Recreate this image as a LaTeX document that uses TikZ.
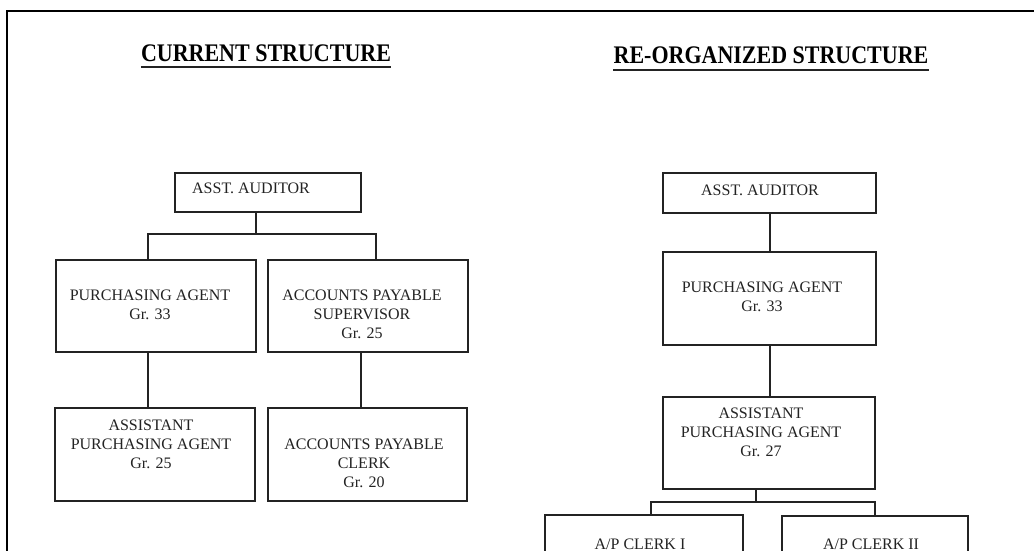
\documentclass[tikz,border=0pt]{standalone}
\usepackage{fontspec}
\setmainfont{Liberation Serif}
\definecolor{ink}{RGB}{35,35,35}
\newcommand{\tallttl}[1]{\scalebox{1}[1.15]{#1}}
\begin{document}
\begin{tikzpicture}[x=1pt,y=-1pt,
  box/.style={draw=ink, line width=1.3pt, inner sep=0pt, outer sep=0pt},
  lbl/.style={text=ink, font=\fontsize{16}{19}\selectfont, align=center, inner sep=0pt},
  ttl/.style={text=black, font=\fontsize{22}{26}\selectfont\bfseries, inner sep=0pt, anchor=base},
  conn/.style={draw=ink, line width=1.3pt},
  uline/.style={draw=ink, line width=2pt},
  frame/.style={draw=black, line width=2.6pt}]
\useasboundingbox (0,0) rectangle (1034,551);
\clip (0,0) rectangle (1034,551);
\fill[white] (0,0) rectangle (1034,551);
% outer frame (open to the right and bottom, cut by the page)
\coordinate (fTL) at (7,11);
\draw[frame] (fTL |- 0,560) -- (fTL) -- (fTL -| 1040,0);

% titles
\node[ttl] (tL) at (266,62) {\tallttl{CURRENT STRUCTURE}};
\node[ttl] (tR) at (771,64) {\tallttl{RE-ORGANIZED STRUCTURE}};
\draw[uline] ([yshift=-5pt]tL.base west) -- ([yshift=-5pt]tL.base east);
\draw[uline] ([yshift=-6pt]tR.base west) -- ([yshift=-6pt]tR.base east);

% ---------- current structure ----------
\node[box, minimum width=186pt, minimum height=39pt] (lAA) at (268,192.5) {};
\node[lbl] (lAAt) at (251,188) {ASST. AUDITOR};
\node[box, minimum width=200pt, minimum height=92pt] (lPA) at (156,306) {};
\node[lbl] (lPAt) at (150,305) {PURCHASING AGENT\\Gr. 33};
\node[box, minimum width=200pt, minimum height=92pt] (lAPS) at (368,306) {};
\node[lbl] (lAPSt) at (362,314) {ACCOUNTS PAYABLE\\SUPERVISOR\\Gr. 25};
\node[box, minimum width=200pt, minimum height=93pt] (lAPA) at (155,454.5) {};
\node[lbl] (lAPAt) at (151,444) {ASSISTANT\\PURCHASING AGENT\\Gr. 25};
\node[box, minimum width=199pt, minimum height=93pt] (lAPC) at (367.5,454.5) {};
\node[lbl] (lAPCt) at (364,463) {ACCOUNTS PAYABLE\\CLERK\\Gr. 20};

\coordinate (lbC) at (256,234);
\coordinate (lbL) at (148,234);
\coordinate (lbR) at (376,234);
\coordinate (lvR) at (361,380);
\draw[conn] (lAA.south -| lbC) -- (lbC);
\draw[conn] (lPA.north -| lbL) -- (lbL) -- (lbR) -- (lAPS.north -| lbR);
\draw[conn] (lPA.south -| lbL) -- (lAPA.north -| lbL);
\draw[conn] (lAPS.south -| lvR) -- (lAPC.north -| lvR);

% ---------- re-organized structure ----------
\node[box, minimum width=213pt, minimum height=40pt] (rAA) at (769.5,193) {};
\node[lbl] (rAAt) at (760,190) {ASST. AUDITOR};
\node[box, minimum width=213pt, minimum height=93pt] (rPA) at (769.5,298.5) {};
\node[lbl] (rPAt) at (762,297) {PURCHASING AGENT\\Gr. 33};
\node[box, minimum width=212pt, minimum height=92pt] (rAPA) at (769,443) {};
\node[lbl] (rAPAt) at (761,432) {ASSISTANT\\PURCHASING AGENT\\Gr. 27};
\node[box, minimum width=198pt, minimum height=93pt] (rC1) at (644,561.5) {};
\node[lbl, anchor=base] (rC1t) at (640,549) {A/P CLERK I};
\node[box, minimum width=186pt, minimum height=93pt] (rC2) at (875,562.5) {};
\node[lbl, anchor=base] (rC2t) at (871,549) {A/P CLERK II};

\coordinate (rv) at (770,300);
\coordinate (rbC) at (756,502);
\coordinate (rbL) at (651,502);
\coordinate (rbR) at (875,502);
\draw[conn] (rAA.south -| rv) -- (rPA.north -| rv);
\draw[conn] (rPA.south -| rv) -- (rAPA.north -| rv);
\draw[conn] (rAPA.south -| rbC) -- (rbC);
\draw[conn] (rC1.north -| rbL) -- (rbL) -- (rbR) -- (rC2.north -| rbR);
\end{tikzpicture}
\end{document}
